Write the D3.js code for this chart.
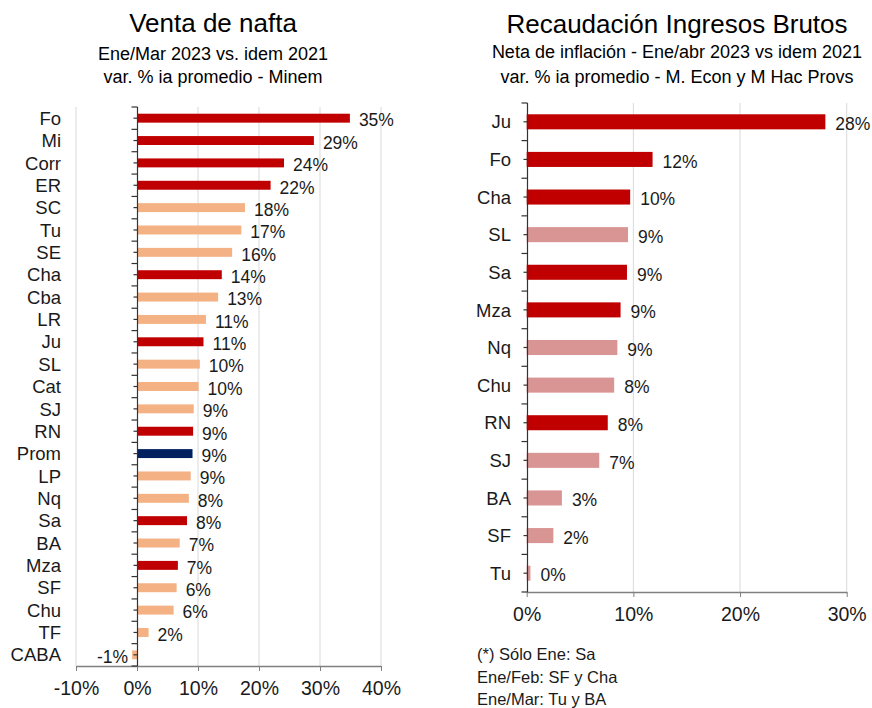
<!DOCTYPE html>
<html><head><meta charset="utf-8">
<script src="https://cdn.jsdelivr.net/npm/d3@7"></script>
<style>body{margin:0;background:#fff}svg{display:block;font-family:"Liberation Sans",Arial,sans-serif}</style>
</head><body>
<svg id="c" width="872" height="708"></svg>
<script>
// Left chart: Venta de nafta
const naftaCats = ["Fo","Mi","Corr","ER","SC","Tu","SE","Cha","Cba","LR","Ju","SL","Cat","SJ","RN","Prom","LP","Nq","Sa","BA","Mza","SF","Chu","TF","CABA"];
const naftaVals = [34.9,29.0,24.1,21.9,17.7,17.1,15.6,13.9,13.3,11.3,10.9,10.3,10.1,9.3,9.2,9.1,8.8,8.5,8.2,7.0,6.7,6.5,6.0,1.9,-0.8];
const naftaLabels = ["35%","29%","24%","22%","18%","17%","16%","14%","13%","11%","11%","10%","10%","9%","9%","9%","9%","8%","8%","7%","7%","6%","6%","2%","-1%"];
const naftaGroup = ["h","h","h","h","l","l","l","h","l","l","h","l","l","l","h","p","l","l","h","l","h","l","l","l","l"];
const naftaTicks = [-10,0,10,20,30,40];

// Right chart: Recaudación Ingresos Brutos
const iibbCats = ["Ju","Fo","Cha","SL","Sa","Mza","Nq","Chu","RN","SJ","BA","SF","Tu"];
const iibbVals = [28.0,11.8,9.7,9.5,9.4,8.8,8.5,8.2,7.6,6.8,3.3,2.5,0.35];
const iibbLabels = ["28%","12%","10%","9%","9%","9%","9%","8%","8%","7%","3%","2%","0%"];
const iibbGroup = ["h","h","h","l","h","h","l","l","h","l","l","l","l"];
const iibbTicks = [0,10,20,30];

const svg = d3.select("#c");
const txt = "#1a1a1a";

function chart(o){
  const g = svg.append("g");
  const x = d3.scaleLinear().domain(o.xdom).range(o.xr);
  const y = d3.scaleBand().domain(o.cats).range(o.yr).paddingInner(0.6).paddingOuter(0.3);
  // gridlines
  g.selectAll(".grid").data(o.ticks.filter(t=>t!==0)).join("line")
    .attr("x1",d=>x(d)).attr("x2",d=>x(d)).attr("y1",o.yr[0]).attr("y2",o.yr[1])
    .attr("stroke","#d9d9d9").attr("stroke-width",1);
  // bars
  g.selectAll(".bar").data(o.cats).join("rect")
    .attr("x",(d,i)=>x(Math.min(0,o.vals[i])))
    .attr("width",(d,i)=>Math.abs(x(o.vals[i])-x(0)))
    .attr("y",d=>y(d)).attr("height",y.bandwidth())
    .attr("fill",(d,i)=>o.colors[o.group[i]]);
  // bottom axis
  const xa = g.append("g").attr("transform",`translate(0,${o.yr[1]})`)
    .call(d3.axisBottom(x).tickValues(o.ticks).tickSize(5).tickSizeOuter(0).tickFormat(d=>d+"%"));
  xa.select(".domain").attr("stroke","#808080").attr("stroke-width",1.5);
  xa.selectAll(".tick line").attr("stroke","#808080");
  xa.selectAll("text").attr("fill",txt).attr("font-size",o.tickFs).attr("dy","1.1em");
  // vertical category axis at 0
  const x0 = Math.round(x(0))+0.5;
  g.append("line").attr("x1",x0).attr("x2",x0).attr("y1",o.yr[0]).attr("y2",o.yr[1])
    .attr("stroke","#333").attr("stroke-width",1.2);
  const step = y.step();
  const bounds = d3.range(o.cats.length+1).map(i=>o.yr[0]+i*step);
  g.selectAll(".bt").data(bounds).join("line")
    .attr("x1",x0-6).attr("x2",x0).attr("y1",d=>d).attr("y2",d=>d)
    .attr("stroke","#333").attr("stroke-width",1.2);
  g.selectAll(".ct").data(o.cats).join("line")
    .attr("x1",x0-4).attr("x2",x0).attr("y1",d=>y(d)+y.bandwidth()/2).attr("y2",d=>y(d)+y.bandwidth()/2)
    .attr("stroke","#333").attr("stroke-width",1.2);
  // category labels
  g.selectAll(".cl").data(o.cats).join("text")
    .attr("x",o.labelX).attr("y",d=>y(d)+y.bandwidth()/2).attr("dy","0.36em")
    .attr("text-anchor","end").attr("font-size",o.catFs).attr("fill",txt).text(d=>d);
  // value labels
  g.selectAll(".vl").data(o.cats).join("text")
    .attr("x",(d,i)=>o.vals[i]>=0 ? x(o.vals[i])+o.gap : x(o.vals[i])-4)
    .attr("text-anchor",(d,i)=>o.vals[i]>=0?"start":"end")
    .attr("y",d=>y(d)+y.bandwidth()/2+2).attr("dy","0.36em")
    .attr("font-size",o.valFs).attr("fill",txt).text((d,i)=>o.labels[i]);
  // titles
  o.titles.forEach(t=>{
    svg.append("text").attr("x",o.cx).attr("y",t[1]).attr("text-anchor","middle")
      .attr("font-size",t[2]).attr("fill","#000").text(t[0]);
  });
}

chart({
  cats:naftaCats, vals:naftaVals, labels:naftaLabels, group:naftaGroup, ticks:naftaTicks,
  xdom:[-10,40], xr:[76,381], yr:[107,666],
  colors:{h:"#c00000",l:"#f4b183",p:"#002060"},
  labelX:61, catFs:18.5, valFs:17.5, tickFs:19.5, gap:9, cx:213,
  titles:[["Venta de nafta",32,26],["Ene/Mar 2023 vs. idem 2021",60,18],["var. % ia promedio - Minem",83,18]]
});
chart({
  cats:iibbCats, vals:iibbVals, labels:iibbLabels, group:iibbGroup, ticks:iibbTicks,
  xdom:[0,30], xr:[526.7,846.7], yr:[103,592],
  colors:{h:"#c00000",l:"#d99594"},
  labelX:511, catFs:18.5, valFs:17.5, tickFs:19.5, gap:10, cx:677,
  titles:[["Recaudación Ingresos Brutos",33,26],["Neta de inflación - Ene/abr 2023 vs idem 2021",58,18],["var. % ia promedio - M. Econ y M Hac Provs",83,18]]
});

// footnote
const notes = ["(*) Sólo Ene: Sa","Ene/Feb: SF y Cha","Ene/Mar: Tu y BA"];
svg.selectAll(".fn").data(notes).join("text")
  .attr("x",477).attr("y",(d,i)=>660+i*22.5).attr("font-size",16.5).attr("fill",txt).text(d=>d);
</script>
</body></html>
